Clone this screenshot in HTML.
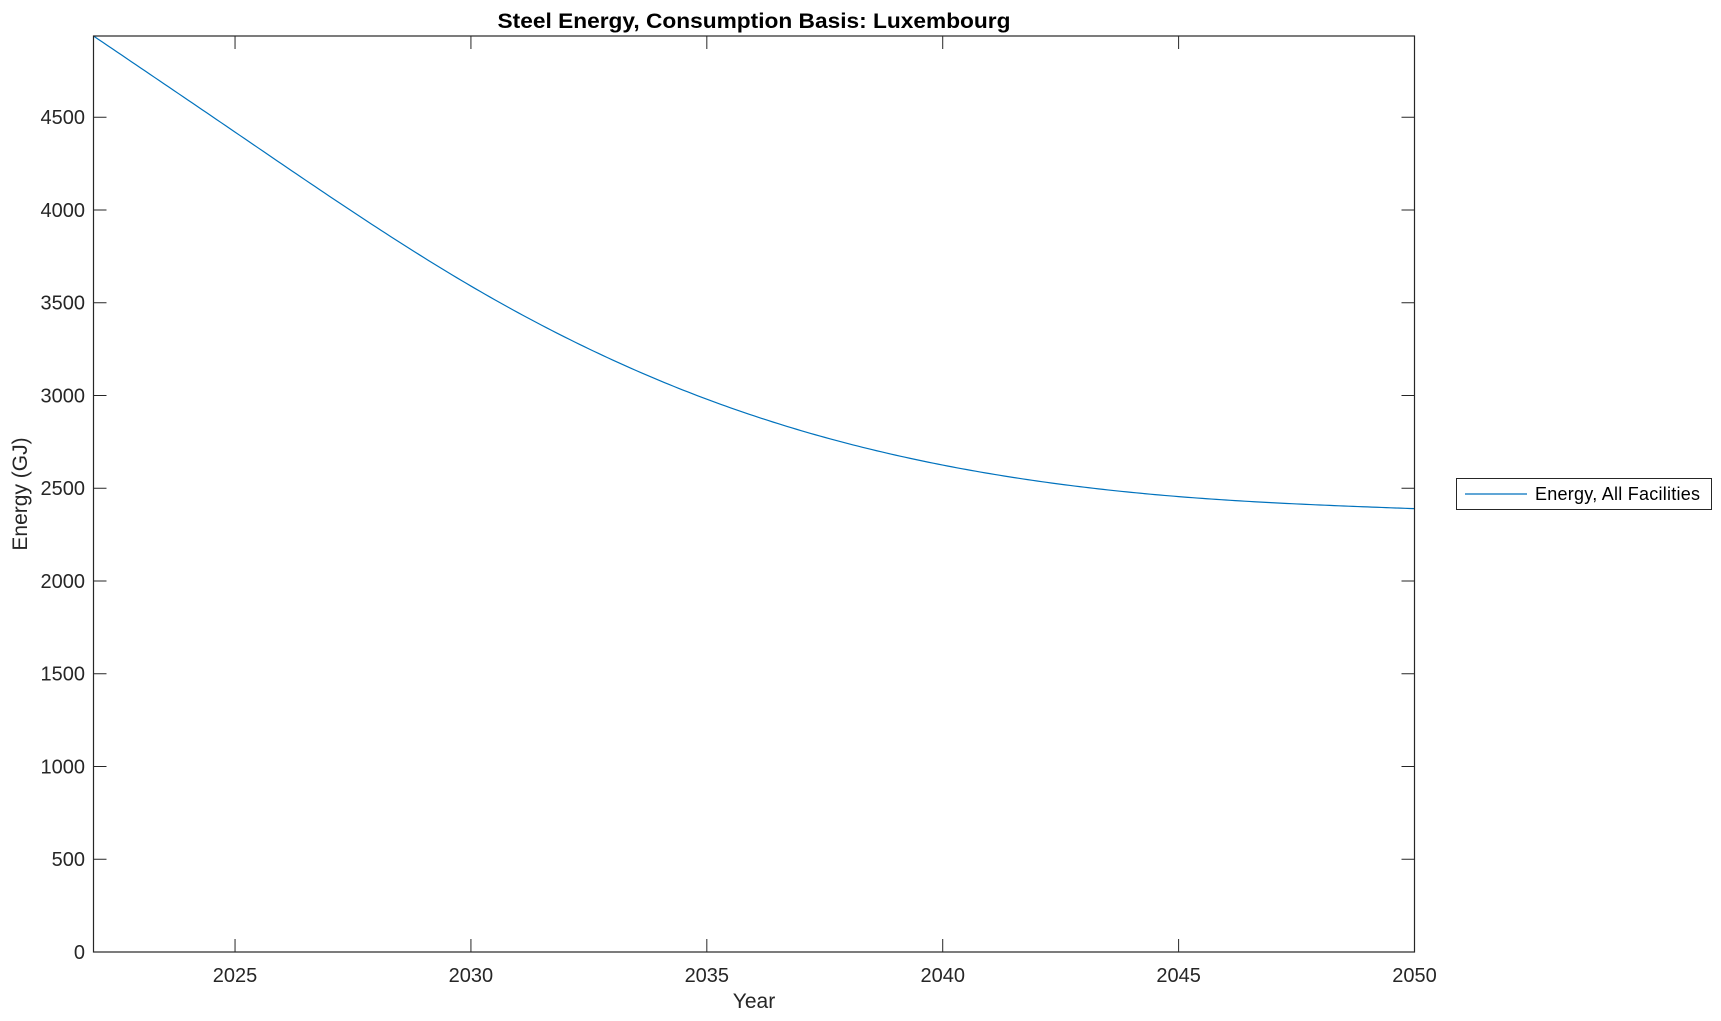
<!DOCTYPE html>
<html><head><meta charset="utf-8"><style>html,body{margin:0;padding:0;background:#fff}svg{display:block}text{font-family:"Liberation Sans",Arial,sans-serif;fill:#262626}</style></head>
<body>
<svg id="s" width="1721" height="1021" viewBox="0 0 1721 1021" xmlns="http://www.w3.org/2000/svg">
<rect x="0" y="0" width="1721" height="1021" fill="#fff"/>
<text x="754" y="28" font-size="21.5" font-weight="bold" text-anchor="middle" textLength="513" lengthAdjust="spacingAndGlyphs" fill="#000" style="fill:#000">Steel Energy, Consumption Basis: Luxembourg</text>
<g id="ticks" stroke="#262626" stroke-width="1"></g>
<g id="labels" font-size="20"></g>
<path id="curve" fill="none" stroke="#0072BD" stroke-width="1.2"/>
<rect x="93.5" y="36" width="1321" height="916" fill="none" stroke="#262626" stroke-width="1.2"/>
<text x="754" y="1008" font-size="21" text-anchor="middle">Year</text>
<text transform="translate(27,494) rotate(-90)" font-size="21" text-anchor="middle">Energy (GJ)</text>
<rect x="1456.5" y="478.5" width="255" height="31" fill="#fff" stroke="#262626" stroke-width="1"/>
<line x1="1465" y1="494" x2="1527" y2="494" stroke="#0072BD" stroke-width="1.2"/>
<text x="1535" y="500" font-size="18" textLength="165" fill="#000" style="fill:#000">Energy, All Facilities</text>
</svg>
<script>
var L=93.5,R=1414.5,T=36,B=952,ymax=4938;
function X(v){return L+(v-2022)/28*(R-L);}
function Y(v){return B-v/ymax*(B-T);}
var ns="http://www.w3.org/2000/svg",tk=document.getElementById('ticks'),lb=document.getElementById('labels');
function el(p,n,a,t){var e=document.createElementNS(ns,n);for(var k in a)e.setAttribute(k,a[k]);if(t)e.textContent=t;p.appendChild(e);}
for(var yr=2025;yr<=2050;yr+=5){var x=X(yr);el(tk,'line',{x1:x,y1:B,x2:x,y2:B-13});el(tk,'line',{x1:x,y1:T,x2:x,y2:T+13});el(lb,'text',{x:x,y:982,'text-anchor':'middle'},String(yr));}
for(var v=0;v<=4500;v+=500){var y=Y(v);el(tk,'line',{x1:L,y1:y,x2:L+13,y2:y});el(tk,'line',{x1:R,y1:y,x2:R-13,y2:y});el(lb,'text',{x:85,y:y+7,'text-anchor':'end'},String(v));}
var px=[2022,2025,2030,2035,2040,2045,2050],py=[4938,4420,3590,2980,2625,2455,2390];
var n=px.length,h=[],a=[],l=[1],mu=[0],z=[0],c=new Array(n).fill(0),b=[],d=[];
for(var i=0;i<n-1;i++)h[i]=px[i+1]-px[i];
for(i=1;i<n-1;i++)a[i]=3/h[i]*(py[i+1]-py[i])-3/h[i-1]*(py[i]-py[i-1]);
for(i=1;i<n-1;i++){l[i]=2*(px[i+1]-px[i-1])-h[i-1]*mu[i-1];mu[i]=h[i]/l[i];z[i]=(a[i]-h[i-1]*z[i-1])/l[i];}
l[n-1]=1;z[n-1]=0;c[n-1]=0;
for(var j=n-2;j>=0;j--){c[j]=z[j]-mu[j]*c[j+1];b[j]=(py[j+1]-py[j])/h[j]-h[j]*(c[j+1]+2*c[j])/3;d[j]=(c[j+1]-c[j])/(3*h[j]);}
function f(t){for(var k=0;k<n-2&&t>px[k+1];k++);var dx=t-px[k];return py[k]+b[k]*dx+c[k]*dx*dx+d[k]*dx*dx*dx;}
var s='';for(var t=2022;t<=2050.0001;t+=0.1){s+=(s?'L':'M')+X(t).toFixed(2)+','+Y(f(t)).toFixed(2);}
document.getElementById('curve').setAttribute('d',s);
</script>
</body></html>
